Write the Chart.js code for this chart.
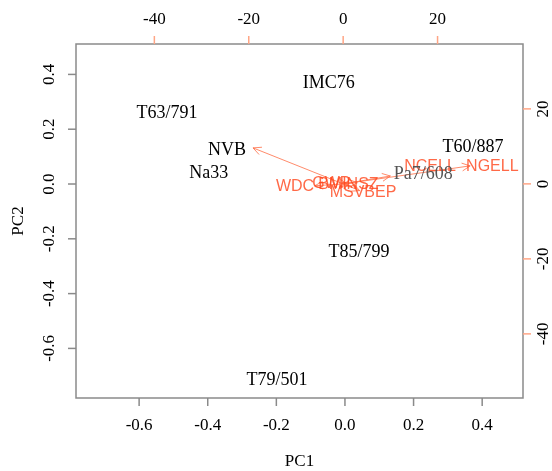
<!DOCTYPE html>
<html><head><meta charset="utf-8">
<script src="https://cdn.jsdelivr.net/npm/chart.js@4/dist/chart.umd.min.js"></script>
<style>html,body{margin:0;padding:0;background:#fff}#wrap{width:552px;height:471px;position:relative}</style>
</head><body><div id="wrap"><canvas id="c" width="552" height="471"></canvas></div>
<script>
// ---- data ----
const sampleNames = ["IMC76","T63/791","NVB","Na33","T60/887","Pa7/608","T85/799","T79/501"];
const pc1Scores   = [-0.047,-0.519,-0.344,-0.397, 0.373, 0.228, 0.041,-0.198];
const pc2Scores   = [ 0.369, 0.259, 0.124, 0.040, 0.135, 0.036,-0.248,-0.715];
const sampleInk   = ["#000","#000","#000","#000","#000","#555","#000","#000"];

const varNames    = ["", "WDC", "BMINSZ", "GWP", "MSVBEP", "NCELL", "NGELL"];
const arrowPC1    = [-19.1, -6.0, 1.0, 3.0, 3.5, 10.0, 26.9];
const arrowPC2    = [  9.6, -0.5, -0.2, 0.3, -1.8, 2.1, 4.8];
const labelPC1    = [-23.9, -10.2, 1.1, -2.5, 4.2, 18.4, 31.6];
const labelPC2    = [ 12.0, -0.8, -0.3, 0.2, -2.4, 4.5, 4.5];

const pcTicks   = [-0.6,-0.4,-0.2,0.0,0.2,0.4];
const loadTicks = [-40,-20,0,20];
const pcRangeX  = [-0.784, 0.519];
const pcRangeY  = [-0.781, 0.511];
const loadRangeX = [-56.6, 38.1];
const loadRangeY = [-57.1, 37.3];

const RED = 'rgba(255,72,30,0.82)';
const RED_LINE = 'rgba(255,110,70,0.8)';
const SERIF = '"Liberation Serif","Times New Roman",serif';
const SANS = '"Liberation Sans",Arial,sans-serif';

const datasets = [];
datasets.push({
  label:'samples', type:'scatter',
  data: pc1Scores.map((v,i)=>({x:v,y:pc2Scores[i]})),
  pointRadius:0, xAxisID:'x', yAxisID:'y'
});
varNames.forEach((n,i)=>{
  datasets.push({
    label:'arrow'+i, type:'line', showLine:true, fill:false,
    data:[{x:0,y:0},{x:arrowPC1[i],y:arrowPC2[i]}],
    borderColor:RED_LINE, borderWidth:1, pointRadius:0,
    xAxisID:'x2', yAxisID:'y2'
  });
});
datasets.push({
  label:'varlabels', type:'scatter',
  data: labelPC1.map((v,i)=>({x:v,y:labelPC2[i]})),
  pointRadius:0, xAxisID:'x2', yAxisID:'y2'
});

const biplotPlugin = {
  id:'biplot',
  afterDatasetsDraw(chart){
    const ctx = chart.ctx;
    ctx.save();
    // arrowheads
    varNames.forEach((n,i)=>{
      const meta = chart.getDatasetMeta(1+i);
      const p0 = meta.data[0], p1 = meta.data[1];
      const ang = Math.atan2(p1.y-p0.y, p1.x-p0.x);
      const L = 9, A = 0.45;
      ctx.strokeStyle = RED_LINE; ctx.lineWidth = 1;
      ctx.beginPath();
      ctx.moveTo(p1.x - L*Math.cos(ang-A), p1.y - L*Math.sin(ang-A));
      ctx.lineTo(p1.x, p1.y);
      ctx.lineTo(p1.x - L*Math.cos(ang+A), p1.y - L*Math.sin(ang+A));
      ctx.stroke();
    });
    // variable labels
    const lm = chart.getDatasetMeta(datasets.length-1);
    ctx.font = '16px '+SANS; ctx.fillStyle = RED;
    ctx.textAlign='center'; ctx.textBaseline='middle';
    varNames.forEach((n,i)=>{ if(n) ctx.fillText(n, lm.data[i].x, lm.data[i].y); });
    // sample labels
    const sm = chart.getDatasetMeta(0);
    ctx.font = '18px '+SERIF;
    sampleNames.forEach((n,i)=>{
      ctx.fillStyle = sampleInk[i];
      ctx.fillText(n, sm.data[i].x, sm.data[i].y);
    });
    ctx.restore();
  },
  afterDraw(chart){
    const ctx = chart.ctx, a = chart.chartArea;
    const sx = chart.scales.x, sy = chart.scales.y, sx2 = chart.scales.x2, sy2 = chart.scales.y2;
    ctx.save();
    ctx.strokeStyle = '#8a8a8a'; ctx.lineWidth = 1.5;
    ctx.strokeRect(a.left, a.top, a.right-a.left, a.bottom-a.top);
    ctx.fillStyle = '#000';
    ctx.font = '17px '+SERIF; ctx.textAlign='center'; ctx.textBaseline='middle';
    // bottom
    pcTicks.forEach(t=>{
      const x = sx.getPixelForValue(t);
      ctx.strokeStyle='#8a8a8a'; ctx.beginPath(); ctx.moveTo(x,a.bottom); ctx.lineTo(x,a.bottom+8); ctx.stroke();
      ctx.fillText(t.toFixed(1), x, a.bottom+28);
    });
    // left
    pcTicks.forEach(t=>{
      const y = sy.getPixelForValue(t);
      ctx.strokeStyle='#8a8a8a'; ctx.beginPath(); ctx.moveTo(a.left,y); ctx.lineTo(a.left-8,y); ctx.stroke();
      ctx.save(); ctx.translate(a.left-26, y); ctx.rotate(-Math.PI/2); ctx.fillText(t.toFixed(1),0,0); ctx.restore();
    });
    // top
    loadTicks.forEach(t=>{
      const x = sx2.getPixelForValue(t);
      ctx.strokeStyle='#ffa585'; ctx.beginPath(); ctx.moveTo(x,a.top); ctx.lineTo(x,a.top-8); ctx.stroke();
      ctx.fillText(String(t), x, a.top-24);
    });
    // right
    loadTicks.forEach(t=>{
      const y = sy2.getPixelForValue(t);
      ctx.strokeStyle='#ffa585'; ctx.beginPath(); ctx.moveTo(a.right,y); ctx.lineTo(a.right+8,y); ctx.stroke();
      ctx.save(); ctx.translate(a.right+21, y); ctx.rotate(-Math.PI/2); ctx.fillText(String(t),0,0); ctx.restore();
    });
    // titles
    ctx.font = '17px '+SERIF;
    ctx.fillText('PC1', (a.left+a.right)/2, 462);
    ctx.save(); ctx.translate(19,(a.top+a.bottom)/2); ctx.rotate(-Math.PI/2); ctx.fillText('PC2',0,0); ctx.restore();
    ctx.restore();
  }
};

new Chart(document.getElementById('c'), {
  type:'scatter',
  data:{datasets},
  options:{
    responsive:false, animation:false, devicePixelRatio:1,
    layout:{padding:{left:76,right:29,top:44,bottom:73}},
    plugins:{legend:{display:false},tooltip:{enabled:false}},
    scales:{
      x:{type:'linear',display:false,min:pcRangeX[0],max:pcRangeX[1]},
      y:{type:'linear',display:false,min:pcRangeY[0],max:pcRangeY[1]},
      x2:{type:'linear',display:false,position:'top',min:loadRangeX[0],max:loadRangeX[1]},
      y2:{type:'linear',display:false,position:'right',min:loadRangeY[0],max:loadRangeY[1]}
    }
  },
  plugins:[biplotPlugin]
});
</script></body></html>
